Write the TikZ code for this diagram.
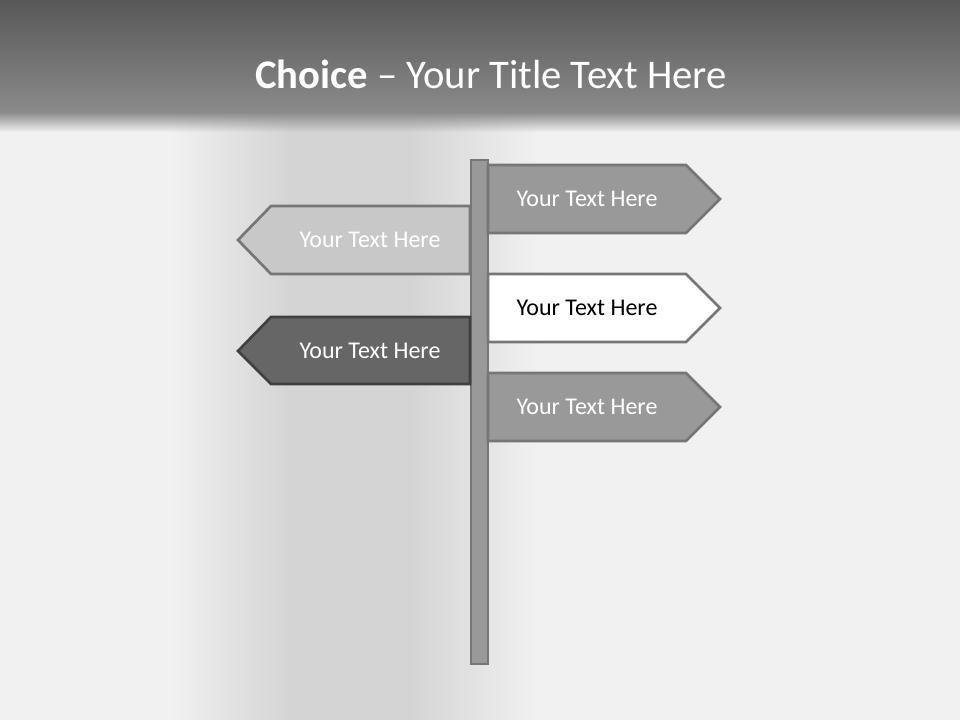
\documentclass[tikz,border=0pt]{standalone}
\usepackage{fontspec}
\setmainfont{Carlito}
\usepackage{tikz}
\usetikzlibrary{positioning, calc, fadings}
\definecolor{bgLight}{RGB}{241,241,241}
\definecolor{bgShadow}{RGB}{212,212,212}
\definecolor{headTop}{RGB}{88,88,88}
\definecolor{headBot}{RGB}{138,138,138}
\definecolor{poleFill}{RGB}{153,153,153}
\definecolor{poleLine}{RGB}{118,118,118}
\definecolor{signMid}{RGB}{153,153,153}
\definecolor{signLight}{RGB}{200,200,200}
\definecolor{signDark}{RGB}{102,102,102}
\tikzset{
    sign_mid/.style={draw=poleLine, line width=2pt, fill=signMid, line join=miter},
    sign_white/.style={draw=poleLine, line width=2pt, fill=white, line join=miter},
    sign_light/.style={draw=poleLine, line width=2pt, fill=signLight, line join=miter},
    sign_dark/.style={draw=black!75, line width=2pt, fill=signDark, line join=miter},
    sign_text/.style={font=\fontsize{18}{21}\selectfont, text=white, inner sep=0pt},
    pole/.style={draw=poleLine, line width=1.5pt, fill=poleFill}
}

\begin{document}
\begin{tikzpicture}[x=0.75pt, y=-0.75pt]
\useasboundingbox (0,0) rectangle (960,720);

% Background
\fill[bgLight] (0,0) rectangle (960,720);
\shade[left color=bgLight, right color=bgShadow] (170,110) rectangle (290,720);
\fill[bgShadow] (290,110) rectangle (410,720);
\shade[left color=bgShadow, right color=bgLight] (410,110) rectangle (540,720);

% Header band
\shade[top color=headTop, bottom color=headBot] (0,0) rectangle (960,112);
\fill[headBot, path fading=south] (0,112) rectangle (960,132);
\node (title) at (491,74) [text=white, font=\fontsize{30.5}{36}\selectfont]
    {\textbf{Choice} -- Your Title Text Here};

% Post
\draw[pole] (471,160) rectangle (488,664);

% Right signs
\draw[sign_mid] (488,165) -- (686,165) -- (720,199) -- (686,233) -- (488,233) -- cycle;
\node (right1) at (587,199) [sign_text] {Your Text Here};

\draw[sign_white] (488,274) -- (686,274) -- (720,308) -- (686,342) -- (488,342) -- cycle;
\node (right2) at (587,308) [sign_text, text=black] {Your Text Here};

\draw[sign_mid] (488,373) -- (686,373) -- (720,407) -- (686,441) -- (488,441) -- cycle;
\node (right3) at (587,407) [sign_text] {Your Text Here};

% Left signs
\draw[sign_light] (470,206) -- (271,206) -- (238,240) -- (271,274) -- (470,274) -- cycle;
\node (left1) at (370,240) [sign_text] {Your Text Here};

\draw[sign_dark] (470,317) -- (271,317) -- (238,351) -- (271,384) -- (470,384) -- cycle;
\node (left2) at (370,351) [sign_text] {Your Text Here};

\end{tikzpicture}
\end{document}
